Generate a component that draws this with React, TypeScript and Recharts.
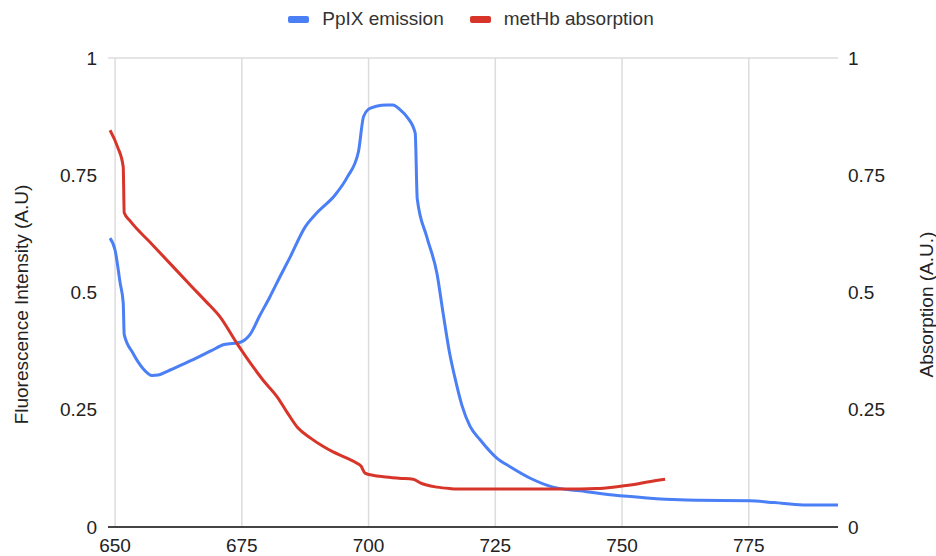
import React from "react";
import {
  LineChart,
  Line,
  XAxis,
  YAxis,
  CartesianGrid,
  ReferenceLine,
  Legend
} from "recharts";

// wavelength (nm) ticks and y ticks shared by both axes
const xTicks = [650, 675, 700, 725, 750, 775];
const yTicks = [0, 0.25, 0.5, 0.75, 1];

// PpIX emission
const ppixWavelength = [
  649, 650, 651, 651.6, 651.8, 653.5, 655.5, 657.3, 658.5, 660.3, 663, 666, 669,
  671.5, 674.7, 676.6, 678.5, 680.5, 682.5, 684.5, 687.5, 690, 693.4, 695.8, 698,
  699, 700, 701.5, 703.6, 704.8, 706.2, 707.6, 709.2, 709.6, 711.5, 713.5, 714.7,
  716, 717, 718.4, 720, 722, 725.3, 728, 731.9, 736.4, 741.7, 748.2, 754.9, 761.4,
  765.4, 775.2, 780, 785.7, 792.6
];
const ppixIntensity = [
  0.616, 0.59, 0.52, 0.478, 0.41, 0.371, 0.338, 0.323, 0.324, 0.332, 0.345, 0.36,
  0.376, 0.389, 0.394, 0.41, 0.45, 0.49, 0.533, 0.575, 0.64, 0.672, 0.708, 0.746,
  0.8, 0.875, 0.891, 0.897, 0.9, 0.9, 0.89, 0.874, 0.84, 0.7, 0.618, 0.54, 0.456,
  0.37, 0.32, 0.26, 0.215, 0.186, 0.147, 0.128, 0.104, 0.085, 0.077, 0.068, 0.062,
  0.058, 0.057, 0.056, 0.052, 0.047, 0.047
];

// metHb absorption
const methbWavelength = [
  649, 650.5, 651.6, 651.8, 653, 657, 661, 665, 668, 670.7, 674, 676, 679.2, 682,
  683.9, 686, 688.5, 691, 693, 695.5, 697.7, 698.5, 699.3, 701, 702.9, 706, 708.8,
  710.2, 713.5, 716, 717.5, 725, 735, 741.7, 745, 748.2, 752, 755, 758.5
];
const methbAbsorption = [
  0.846, 0.81, 0.768, 0.67, 0.652, 0.606, 0.56, 0.514, 0.48, 0.448, 0.392, 0.36,
  0.313, 0.277, 0.245, 0.212, 0.19, 0.172, 0.16, 0.148, 0.136, 0.13, 0.115, 0.11,
  0.107, 0.104, 0.102, 0.094, 0.085, 0.082, 0.081, 0.081, 0.081, 0.081, 0.082,
  0.085, 0.09, 0.096, 0.102
];

const ppixData = ppixWavelength.map((x, i) => ({ x, y: ppixIntensity[i] }));
const methbData = methbWavelength.map((x, i) => ({ x, y: methbAbsorption[i] }));

const BLUE = "#4a7ff5";
const RED = "#d8352a";
const GRID = "#dcdcdc";
const FONT = "'Liberation Sans', Arial, sans-serif";

const AxisTitle = ({ viewBox, value, px }: any) => {
  const cy = viewBox.y + viewBox.height / 2 + 12;
  return (
    <text
      x={px}
      y={cy}
      transform={`rotate(-90, ${px}, ${cy})`}
      textAnchor="middle"
      dominantBaseline="central"
      fontSize={19}
      fontFamily={FONT}
      fill="#222"
    >
      {value}
    </text>
  );
};

const LegendContent = () => {
  const items = [
    { name: "PpIX emission", color: BLUE },
    { name: "metHb absorption", color: RED }
  ];
  return (
    <div
      style={{
        width: 936,
        height: 58,
        display: "flex",
        justifyContent: "center",
        paddingLeft: 6,
        boxSizing: "border-box",
        fontFamily: FONT,
        fontSize: 19,
        color: "#333"
      }}
    >
      {items.map((it, i) => (
        <div
          key={it.name}
          style={{ display: "flex", alignItems: "center", height: 38, marginLeft: i ? 26 : 0 }}
        >
          <span
            style={{
              display: "inline-block",
              width: 21,
              height: 7,
              borderRadius: 2,
              background: it.color,
              marginRight: 13
            }}
          />
          <span>{it.name}</span>
        </div>
      ))}
    </div>
  );
};

export default function App() {
  return (
    <div style={{ position: "absolute", left: 0, top: 0, width: 936, height: 556, background: "#fff" }}>
      <LineChart
        width={936}
        height={556}
        margin={{ top: 0, right: 0, bottom: 0, left: 8 }}
      >
        <CartesianGrid stroke={GRID} strokeWidth={1.5} vertical={false} />
        <XAxis
          dataKey="x"
          type="number"
          domain={[648.6, 792.6]}
          ticks={xTicks}
          allowDataOverflow
          height={29}
          tickSize={0}
          tickMargin={12}
          tickLine={false}
          axisLine={{ stroke: "#444", strokeWidth: 2 }}
          tick={{ fill: "#222", fontSize: 19, fontFamily: FONT }}
        />
        <YAxis
          yAxisId="left"
          domain={[0, 1]}
          ticks={yTicks}
          width={100}
          tickSize={0}
          tickMargin={11}
          axisLine={false}
          tickLine={false}
          tick={{ fill: "#222", fontSize: 19, fontFamily: FONT }}
          label={<AxisTitle value="Fluorescence Intensity (A.U)" px={21} />}
        />
        <YAxis
          yAxisId="right"
          orientation="right"
          domain={[0, 1]}
          ticks={yTicks}
          width={98}
          tickSize={0}
          tickMargin={10}
          axisLine={false}
          tickLine={false}
          tick={{ fill: "#222", fontSize: 19, fontFamily: FONT }}
          label={<AxisTitle value="Absorption (A.U.)" px={926} />}
        />
        {xTicks.map((t) => (
          <ReferenceLine key={t} x={t} yAxisId="left" stroke={GRID} strokeWidth={1.5} />
        ))}
        <Legend
          verticalAlign="top"
          content={<LegendContent />}
          wrapperStyle={{ left: 0, top: 0, width: 936, height: 58 }}
        />
        <Line
          yAxisId="left"
          data={ppixData}
          dataKey="y"
          name="PpIX emission"
          type="monotone"
          stroke={BLUE}
          strokeWidth={3}
          dot={false}
          isAnimationActive={false}
        />
        <Line
          yAxisId="right"
          data={methbData}
          dataKey="y"
          name="metHb absorption"
          type="monotone"
          stroke={RED}
          strokeWidth={3}
          dot={false}
          isAnimationActive={false}
        />
      </LineChart>
    </div>
  );
}
